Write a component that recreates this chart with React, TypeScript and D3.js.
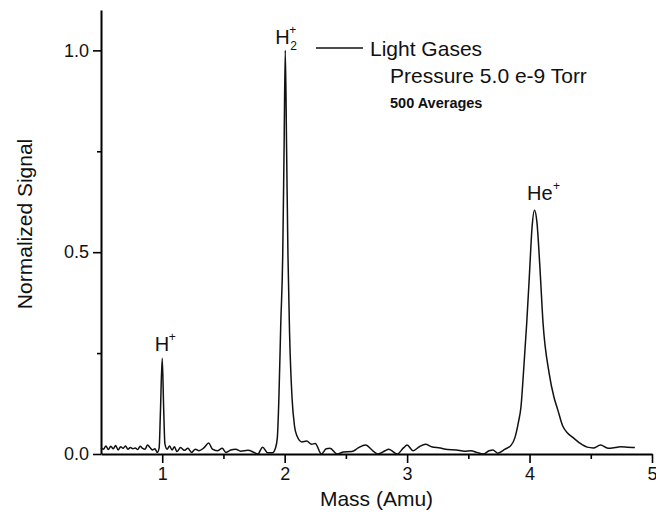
import React, { useEffect, useRef } from "react";
import * as d3 from "d3";

// mass axis (Amu) and normalized signal
const massValues = [
  0.5, 0.52, 0.54, 0.56, 0.58, 0.6, 0.62, 0.64, 0.66, 0.68, 0.7, 0.72, 0.74, 0.76, 0.78, 0.8,
  0.82, 0.84, 0.86, 0.88, 0.9, 0.92, 0.94, 0.96, 0.975, 0.985, 1.0, 1.012, 1.022, 1.04, 1.06,
  1.08, 1.1, 1.12, 1.15, 1.18, 1.21, 1.24, 1.27, 1.3, 1.34, 1.38, 1.41, 1.45, 1.49, 1.52, 1.56,
  1.6, 1.64, 1.7, 1.75, 1.78, 1.82, 1.86, 1.9, 1.925, 1.94, 1.953, 1.968, 1.984, 1.995, 2.005,
  2.016, 2.027, 2.04, 2.06, 2.08, 2.1, 2.14, 2.18, 2.22, 2.25, 2.3, 2.34, 2.37, 2.43, 2.48,
  2.55, 2.6, 2.66, 2.72, 2.76, 2.82, 2.85, 2.92, 2.97, 3.0, 3.05, 3.1, 3.15, 3.2, 3.27, 3.33,
  3.4, 3.47, 3.52, 3.57, 3.62, 3.67, 3.7, 3.74, 3.8, 3.85, 3.88, 3.91, 3.93, 3.95, 3.977, 4.0,
  4.02, 4.04, 4.06, 4.085, 4.11, 4.16, 4.2, 4.23, 4.27, 4.31, 4.35, 4.41, 4.47, 4.52, 4.58,
  4.64, 4.7, 4.74, 4.8, 4.86,
];
const signalValues = [
  0.015, 0.012, 0.02, 0.011, 0.019, 0.013, 0.021, 0.01, 0.018, 0.014, 0.02, 0.012, 0.016, 0.013,
  0.015, 0.011, 0.019, 0.014, 0.012, 0.022, 0.016, 0.01, 0.013, 0.004, 0.015, 0.1, 0.237, 0.11,
  0.025, 0.012, 0.02, 0.01, 0.018, 0.006, 0.016, 0.009, 0.014, 0.004, 0.012, 0.008, 0.015,
  0.027, 0.012, 0.008, 0.014, 0.004, 0.01, 0.012, 0.007, 0.009, 0.004, 0.0, 0.017, 0.003, 0.003,
  0.015, 0.04, 0.14, 0.32, 0.49, 0.75, 1.0, 0.75, 0.49, 0.3, 0.14, 0.07, 0.045, 0.03, 0.032,
  0.024, 0.026, 0.0, 0.013, 0.014, 0.0, 0.005, 0.006, 0.015, 0.022, 0.008, 0.0, 0.008, 0.012,
  0.0, 0.015, 0.022, 0.008, 0.018, 0.024, 0.018, 0.015, 0.011, 0.01, 0.007, 0.008, 0.004, 0.0,
  0.008, 0.01, 0.002, 0.012, 0.022, 0.04, 0.08, 0.117, 0.2, 0.325, 0.45, 0.56, 0.604, 0.575,
  0.46, 0.325, 0.2, 0.14, 0.11, 0.07, 0.052, 0.042, 0.027, 0.017, 0.015, 0.022, 0.014, 0.016,
  0.018, 0.017, 0.016,
];

const xMajorTicks = [1, 2, 3, 4, 5];
const xMinorTicks = [1.5, 2.5, 3.5, 4.5];
const yMajorTicks = [0, 0.5, 1.0];
const yMinorTicks = [0.25, 0.75];

// peak labels: base text, subscript, superscript, and where they sit (data coords)
const peakNames = ["H", "H", "He"];
const peakSubs = ["", "2", ""];
const peakSups = ["+", "+", "+"];
const peakMass = [1.0, 2.0, 4.09];
const peakLabelY = [0.255, 1.017, 0.63];

const legendLines = ["Light Gases", "Pressure 5.0 e-9 Torr", "500 Averages"];

const FONT = "'Liberation Sans', Arial, Helvetica, sans-serif";

const App = () => {
  const svgRef = useRef<SVGSVGElement>(null);

  useEffect(() => {
    const width = 656;
    const height = 513;
    const margin = { top: 10, right: 4, bottom: 59, left: 101 };

    d3.select(svgRef.current).selectAll("*").remove();

    const svg = d3
      .select(svgRef.current)
      .attr("width", width)
      .attr("height", height)
      .style("font-family", FONT);

    const x = d3.scaleLinear().domain([0.5, 5]).range([margin.left, width - margin.right]);
    const y = d3.scaleLinear().domain([0, 1.1]).range([height - margin.bottom, margin.top]);

    const y0 = y(0);

    // X axis (major + minor ticks)
    const xAxis = svg
      .append("g")
      .attr("transform", `translate(0,${y0})`)
      .call(
        d3
          .axisBottom(x)
          .tickValues(xMajorTicks)
          .tickSize(9)
          .tickSizeOuter(0)
          .tickPadding(4)
          .tickFormat(d3.format("d"))
      );
    xAxis.select(".domain").attr("stroke-width", 2);
    xAxis.selectAll(".tick line").attr("stroke-width", 1.6);
    xAxis.selectAll("text").style("font-size", "18px").style("font-family", FONT).attr("fill", "#111");
    // last label sits at the right edge of the page; pull it in so it isn't clipped
    xAxis
      .selectAll(".tick text")
      .filter((d) => d === 5)
      .attr("text-anchor", "end")
      .attr("dx", "5");

    const xMinor = svg
      .append("g")
      .attr("transform", `translate(0,${y0})`)
      .call(d3.axisBottom(x).tickValues(xMinorTicks).tickSize(5).tickSizeOuter(0).tickFormat(() => ""));
    xMinor.select(".domain").remove();
    xMinor.selectAll(".tick line").attr("stroke-width", 1.6);

    // Y axis
    const yAxis = svg
      .append("g")
      .attr("transform", `translate(${margin.left},0)`)
      .call(
        d3
          .axisLeft(y)
          .tickValues(yMajorTicks)
          .tickSize(8)
          .tickSizeOuter(0)
          .tickPadding(4)
          .tickFormat(d3.format(".1f"))
      );
    yAxis.select(".domain").attr("stroke-width", 2);
    yAxis.selectAll(".tick line").attr("stroke-width", 1.6);
    yAxis.selectAll("text").style("font-size", "18px").style("font-family", FONT).attr("fill", "#111");

    const yMinor = svg
      .append("g")
      .attr("transform", `translate(${margin.left},0)`)
      .call(d3.axisLeft(y).tickValues(yMinorTicks).tickSize(4).tickSizeOuter(0).tickFormat(() => ""));
    yMinor.select(".domain").remove();
    yMinor.selectAll(".tick line").attr("stroke-width", 1.6);

    // axis titles
    svg
      .append("text")
      .attr("x", x(2.75))
      .attr("y", 506)
      .attr("text-anchor", "middle")
      .style("font-size", "21px")
      .attr("fill", "#111")
      .text("Mass (Amu)");

    svg
      .append("text")
      .attr("transform", `translate(32,${y(0.57)}) rotate(-90)`)
      .attr("text-anchor", "middle")
      .style("font-size", "21px")
      .attr("fill", "#111")
      .text("Normalized Signal");

    // the trace
    const points = massValues.map((m, i) => ({ mass: m, value: signalValues[i] }));
    const line = d3
      .line<{ mass: number; value: number }>()
      .curve(d3.curveMonotoneX)
      .x((d) => x(d.mass))
      .y((d) => y(d.value));

    svg
      .append("path")
      .datum(points)
      .attr("d", line)
      .attr("fill", "none")
      .attr("stroke", "#111")
      .attr("stroke-width", 1.5)
      .attr("stroke-linejoin", "round");

    // peak labels
    peakNames.forEach((name, i) => {
      const g = svg.append("g");
      const baseW = name === "He" ? 25 : 13;
      const cx = x(peakMass[i]);
      const bx = cx - baseW / 2 - (peakSubs[i] ? 3 : 1);
      const by = y(peakLabelY[i]);
      g.append("text")
        .attr("x", bx)
        .attr("y", by)
        .style("font-size", "20px")
        .attr("fill", "#111")
        .text(name);
      if (peakSubs[i]) {
        g.append("text")
          .attr("x", bx + baseW + 2)
          .attr("y", by + 6)
          .style("font-size", "12px")
          .attr("fill", "#111")
          .text(peakSubs[i]);
      }
      g.append("text")
        .attr("x", bx + baseW + 1)
        .attr("y", by - 10)
        .style("font-size", "12px")
        .attr("fill", "#111")
        .text(peakSups[i]);
    });

    // legend
    svg
      .append("line")
      .attr("x1", 316)
      .attr("x2", 363)
      .attr("y1", 48)
      .attr("y2", 48)
      .attr("stroke", "#111")
      .attr("stroke-width", 1.5);

    svg
      .append("text")
      .attr("x", 370)
      .attr("y", 56)
      .style("font-size", "21px")
      .attr("fill", "#111")
      .text(legendLines[0]);

    svg
      .append("text")
      .attr("x", 390)
      .attr("y", 83)
      .style("font-size", "21px")
      .attr("fill", "#111")
      .text(legendLines[1]);

    svg
      .append("text")
      .attr("x", 390)
      .attr("y", 108)
      .style("font-size", "14.5px")
      .style("font-weight", "bold")
      .attr("fill", "#111")
      .text(legendLines[2]);
  }, []);

  return (
    <div style={{ position: "absolute", left: 0, top: 0, background: "#fff" }}>
      <svg ref={svgRef} style={{ display: "block" }} />
    </div>
  );
};

export default App;
